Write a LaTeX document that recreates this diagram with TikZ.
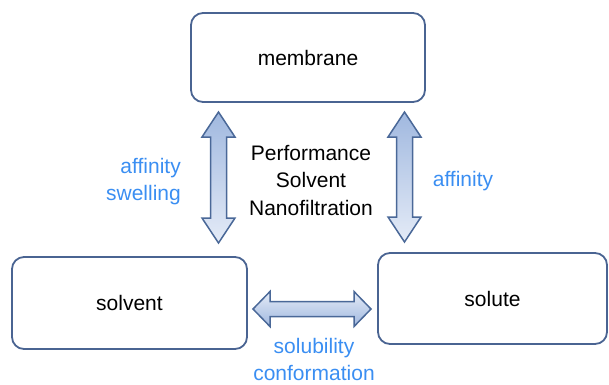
\documentclass[tikz,border=0pt]{standalone}
\usepackage{fontspec}
\setmainfont{Liberation Sans}
\usetikzlibrary{calc}
\definecolor{boxline}{HTML}{4A6492}
\definecolor{arrline}{HTML}{4A6898}
\definecolor{arrdark}{HTML}{A0B8DF}
\definecolor{arrlight}{HTML}{E4EBF7}
\definecolor{lblblue}{HTML}{3A8EF2}
\newcommand{\blockarr}[6]{% start, end, half shaft, half head, head length, shading opts
  \path[draw=arrline, line width=1.5pt, line join=miter, #6]
    (#1) -- ($($(#1)!#5!(#2)$)!#4!90:(#2)$)
         -- ($($(#1)!#5!(#2)$)!#3!90:(#2)$)
         -- ($($(#2)!#5!(#1)$)!#3!-90:(#1)$)
         -- ($($(#2)!#5!(#1)$)!#4!-90:(#1)$)
         -- (#2)
         -- ($($(#2)!#5!(#1)$)!#4!90:(#1)$)
         -- ($($(#2)!#5!(#1)$)!#3!90:(#1)$)
         -- ($($(#1)!#5!(#2)$)!#3!-90:(#2)$)
         -- ($($(#1)!#5!(#2)$)!#4!-90:(#2)$)
         -- cycle;}
\tikzset{
  box/.style={draw=boxline, line width=1.8pt, rounded corners=12pt, fill=white,
    font=\fontsize{21}{27}\selectfont, inner sep=0pt},
  lbl/.style={text=lblblue, font=\fontsize{21}{27}\selectfont, inner sep=0pt},
  ctext/.style={text=black, font=\fontsize{21}{27.5}\selectfont, inner sep=0pt, align=center},
}
\begin{document}
\begin{tikzpicture}[x=1pt, y=-1pt]
\useasboundingbox (0,0) rectangle (609,384);
\node[box, minimum width=234pt, minimum height=89pt] (membrane) at (308,57.5) {membrane};
\node[box, minimum width=235pt, minimum height=92pt] (solvent) at (129.5,303) {solvent};
\node[box, minimum width=229pt, minimum height=91pt] (solute) at (492.5,298.5) {solute};

\coordinate (la1) at (218.5,112);
\coordinate (la2) at (218.5,243);
\coordinate (ra1) at (404.5,112);
\coordinate (ra2) at (404.5,242);
\coordinate (ha1) at (253,309);
\coordinate (ha2) at (371,309);

\blockarr{la1}{la2}{8pt}{16.5pt}{25pt}{top color=arrdark, bottom color=arrlight}
\blockarr{ra1}{ra2}{8pt}{16.5pt}{25pt}{top color=arrdark, bottom color=arrlight}
\blockarr{ha1}{ha2}{7.5pt}{17.5pt}{17pt}{top color=arrlight, bottom color=arrdark}

\node[ctext] (perf) at (311,180) {Performance\\Solvent\\Nanofiltration};
\node[lbl, align=right, anchor=east] (aff1) at (181,181.5) {affinity\\swelling};
\node[lbl] (aff2) at (463,181) {affinity};
\node[lbl, align=center] (solub) at (314,359) {solubility\\conformation};
\end{tikzpicture}
\end{document}
